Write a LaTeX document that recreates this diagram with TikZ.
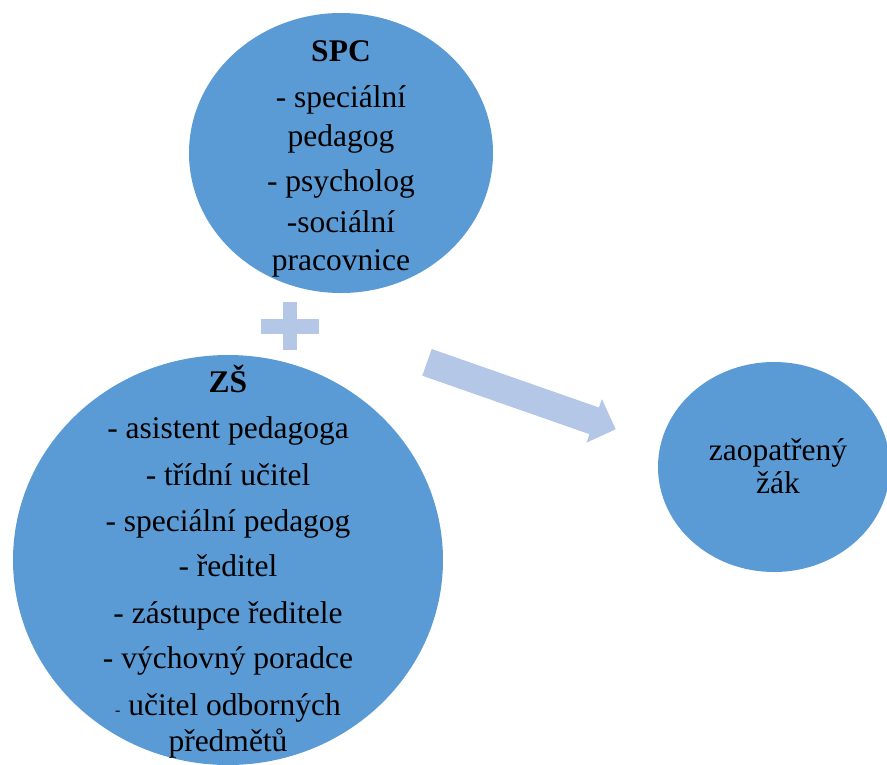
\documentclass[tikz,border=0pt]{standalone}
\usepackage{fontspec}
\setmainfont{Liberation Serif}
\usepackage{tikz}
\usetikzlibrary{shapes.geometric}
\definecolor{bubbleblue}{RGB}{91, 155, 213}
\definecolor{paleblue}{RGB}{180, 199, 231}
\newcommand{\smalldash}{{\fontsize{16}{16}\selectfont -}}

\begin{document}
\begin{tikzpicture}[
  x=1pt, y=-1pt,
  bubble/.style={ellipse, fill=bubbleblue, inner sep=0pt},
  title/.style={anchor=base, font=\fontsize{31.5}{38}\selectfont\bfseries},
  entry/.style={anchor=base, font=\fontsize{31.5}{38}\selectfont}
]
\useasboundingbox (0,0) rectangle (887,764);
\clip (0,0) rectangle (887,764);

\node[bubble, minimum width=304pt, minimum height=280pt] (spc)  at (341,153) {};
\node[bubble, minimum width=430pt, minimum height=410pt] (zs)   at (228,560) {};
\node[bubble, minimum width=232pt, minimum height=210pt] (zak)  at (774,467) {};

% plus and block arrow
\fill[paleblue] (282.7,302) rectangle (297.3,350);
\fill[paleblue] (261,319) rectangle (318.7,334);
\fill[paleblue] (431.7,349) -- (598.9,407.5) -- (601.9,399.1) -- (615.7,429.3)
  -- (586.5,442.6) -- (589.5,434.2) -- (422.3,375.7) -- cycle;

\node[title] (spctitle) at (341,61) {SPC};
\foreach \ypos/\txt [count=\i] in {107/- speciální, 146/pedagog,
  191/- psycholog, 232/-sociální, 270/pracovnice}
  \node[entry] (spc\i) at (341,\ypos) {\txt};

\node[title] (zstitle) at (228,392) {ZŠ};
\foreach \ypos/\txt [count=\i] in {438.7/- asistent pedagoga, 485/- třídní učitel,
  531.7/- speciální pedagog, 576.7/- ředitel, 623/- zástupce ředitele,
  668/- výchovný poradce, 715/\smalldash\ učitel odborných, 751.7/předmětů}
  \node[entry] (zs\i) at (228,\ypos) {\txt};

\node[entry] (zak1) at (778,460) {zaopatřený};
\node[entry] (zak2) at (778,493) {žák};
\end{tikzpicture}
\end{document}
